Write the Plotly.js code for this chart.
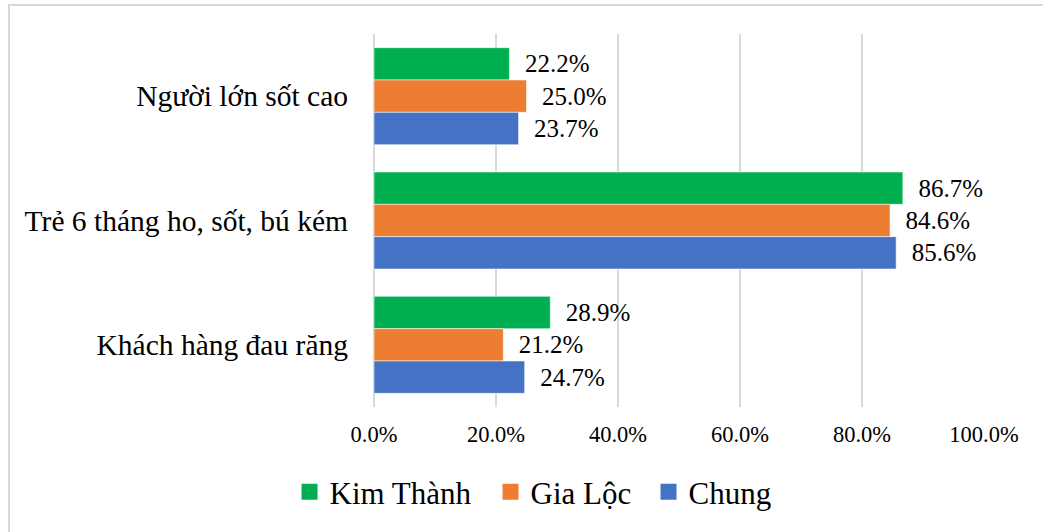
<!DOCTYPE html>
<html>
<head>
<meta charset="utf-8">
<script src="https://cdn.plot.ly/plotly-3.0.1.min.js"></script>
<style>
  html, body { margin: 0; padding: 0; background: #fff; }
  #wrap { position: relative; width: 1043px; height: 532px; overflow: hidden; }
  #chart { position: absolute; left: 0; top: 0; width: 1043px; height: 532px; }
  #frame {
    position: absolute; left: 8px; top: 4px; width: 1100px; height: 600px;
    border-left: 2px solid #d9d9d9; border-top: 2px solid #d9d9d9;
    pointer-events: none;
  }
</style>
</head>
<body>
<div id="wrap">
  <div id="chart"></div>
  <div id="frame"></div>
</div>
<script>
// Categories, top to bottom
const categories = ['Người lớn sốt cao', 'Trẻ 6 tháng ho, sốt, bú kém', 'Khách hàng đau răng'];

// Series values (%)
const kimThanh = [22.2, 86.7, 28.9];
const giaLoc   = [25.0, 84.6, 21.2];
const chung    = [23.7, 85.6, 24.7];

const seriesNames  = ['Kim Thành', 'Gia Lộc', 'Chung'];
const seriesValues = [kimThanh, giaLoc, chung];
const seriesColors = ['#00B050', '#ED7D31', '#4472C4'];
const legendWidths = [156, 113, 90];

const xTickVals = [0, 0.2, 0.4, 0.6, 0.8, 1.0];

const FONT = 'Liberation Serif, Times New Roman, serif';

const traces = [];
seriesValues.forEach((vals, i) => {
  traces.push({
    type: 'bar',
    orientation: 'h',
    name: seriesNames[i],
    y: categories,
    x: vals.map(v => v / 100),
    marker: { color: seriesColors[i], line: { color: 'rgba(255,255,255,0.55)', width: 1 } },
    texttemplate: '\u2002%{x:.1%}',
    textposition: 'outside',
    constraintext: 'none',
    cliponaxis: false,
    textfont: { family: FONT, size: 25, color: '#000' },
    hoverinfo: 'skip',
    showlegend: false
  });
});
// Legend entries with larger square keys
seriesNames.forEach((name, i) => {
  traces.push({
    type: 'scatter',
    mode: 'markers',
    name: name,
    x: [null],
    y: [null],
    marker: { symbol: 'square', size: 16, color: seriesColors[i] },
    legendwidth: legendWidths[i],
    showlegend: true,
    hoverinfo: 'skip'
  });
});

const layout = {
  width: 1043,
  height: 532,
  margin: { l: 374, r: 59, t: 34, b: 125 },
  paper_bgcolor: '#fff',
  plot_bgcolor: '#fff',
  barmode: 'group',
  bargap: 0.22,
  bargroupgap: 0,
  font: { family: FONT, color: '#000' },
  xaxis: {
    range: [0, 1],
    tickvals: xTickVals,
    tickformat: '.1%',
    showgrid: true,
    gridcolor: '#d9d9d9',
    gridwidth: 1.5,
    zeroline: true,
    zerolinecolor: '#d9d9d9',
    zerolinewidth: 1.5,
    showline: false,
    ticks: '',
    ticklabelstandoff: 11,
    tickfont: { family: FONT, size: 22.5, color: '#000' },
    fixedrange: true
  },
  yaxis: {
    type: 'category',
    autorange: 'reversed',
    showgrid: false,
    zeroline: false,
    showline: false,
    ticks: '',
    ticklabelstandoff: 25,
    tickfont: { family: FONT, size: 29.5, color: '#000' },
    fixedrange: true
  },
  showlegend: true,
  legend: {
    orientation: 'h',
    xref: 'container',
    yref: 'container',
    x: 0.2776,
    xanchor: 'left',
    y: 0.075,
    yanchor: 'middle',
    font: { family: FONT, size: 31, color: '#000' },
    bgcolor: 'rgba(0,0,0,0)',
    traceorder: 'normal'
  }
};

Plotly.newPlot('chart', traces, layout, { displayModeBar: false, staticPlot: true });
</script>
</body>
</html>
